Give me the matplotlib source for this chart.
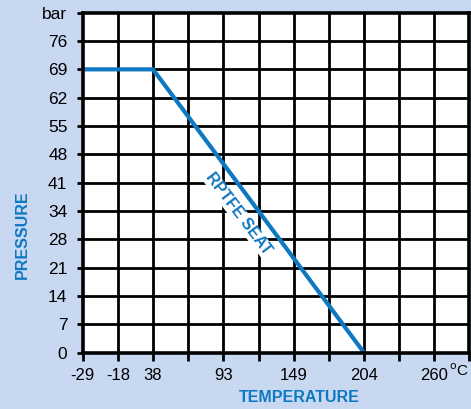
import numpy as np
import matplotlib
matplotlib.use('Agg')
import matplotlib.pyplot as plt

# ---- data ----
temp_ticks = [-29, -18, 38, 93, 149, 204, 260]        # deg C labels on x axis
pressure_ticks = [0, 7, 14, 21, 28, 34, 41, 48, 55, 62, 69, 76]  # bar
curve_temp = [-29, 38, 204]
curve_pressure = [69, 69, 0]
series_label = 'RPTFE SEAT'

# the chart's x scale is piecewise: labelled ticks sit on every other gridline
temp_grid = [0, 1, 2, 4, 6, 8, 10]

BG = '#c7d8f0'
BLUE = '#0f78c2'
plt.rcParams['font.family'] = ['Liberation Sans', 'DejaVu Sans']

fig = plt.figure(figsize=(4.71, 4.09), dpi=100, facecolor=BG)
ax = fig.add_axes([0.1756, 0.1377, 0.8212, 0.8313])
ax.set_facecolor('white')

xs = np.interp(curve_temp, temp_ticks, temp_grid)
ys = np.interp(curve_pressure, pressure_ticks, np.arange(len(pressure_ticks)))
ax.plot(xs, ys, color=BLUE, lw=3, solid_capstyle='butt', zorder=5)

ax.set_xlim(0, 11)
ax.set_ylim(0, 12)

# grid on every cell boundary
for gx in range(1, 11):
    ax.axvline(gx, color='black', lw=2.0, zorder=1)
for gy in range(1, 12):
    ax.axhline(gy, color='black', lw=2.0, zorder=1)
for s in ax.spines.values():
    s.set_linewidth(2.6)
    s.set_zorder(6)

xlabels = [''] * 12
for t, g in zip(temp_ticks, temp_grid):
    xlabels[g] = str(t)
ax.set_xticks(range(12))
ax.set_xticklabels(xlabels)
ax.set_yticks(range(13))
ax.set_yticklabels([str(p) for p in pressure_ticks] + ['bar'])
ax.tick_params(axis='x', length=6, width=2, pad=5, labelsize=12)
ax.tick_params(axis='y', length=4, width=2, pad=7, labelsize=12.5)

fig.text(469 / 471, 1 - 371 / 409, r'$^{\mathrm{o}}$C', fontsize=11,
         ha='right', va='center')

bold = dict(fontweight='bold', color=BLUE)
ax.text(4.42, 4.9, series_label, rotation=-52.8, rotation_mode='anchor',
        ha='center', va='center', fontsize=11.5, zorder=4,
        bbox=dict(facecolor='white', edgecolor='none', pad=0.5), **bold)

fig.text(299 / 471, 1 - 398 / 409, 'TEMPERATURE', fontsize=11.5,
         ha='center', va='center', **bold)
fig.text(22.5 / 471, 1 - 235 / 409, 'PRESSURE', fontsize=11.5,
         ha='center', va='center', rotation=90, **bold)

fig.savefig('out.png', dpi=100, facecolor=BG)
